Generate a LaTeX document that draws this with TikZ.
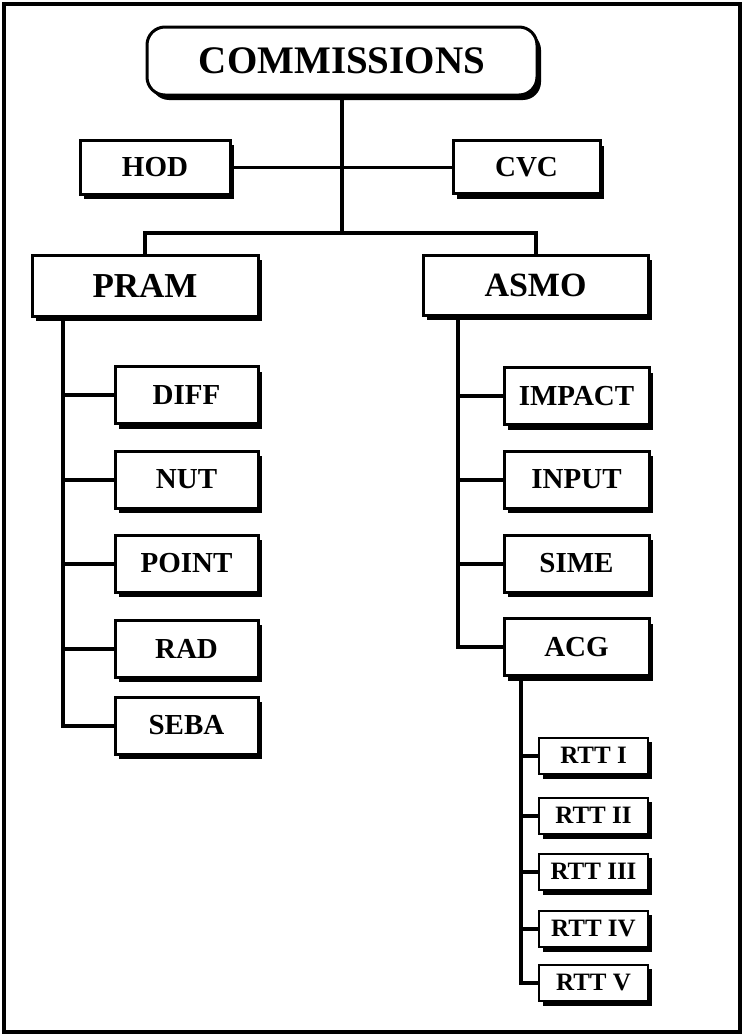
\documentclass[tikz,border=0pt]{standalone}
\usepackage{fontspec}
\setmainfont{Liberation Serif}
\usetikzlibrary{shadows,backgrounds}
\begin{document}
\begin{tikzpicture}[x=1pt,y=-1pt,
  box/.style={draw=black,line width=3pt,fill=white,inner sep=0pt,
    drop shadow={shadow xshift=4pt,shadow yshift=-5pt,opacity=1,fill=black},
    font=\bfseries\fontsize{29}{29}\selectfont},
  smallbox/.style={box,line width=2pt,minimum width=109pt,minimum height=36pt,
    drop shadow={shadow xshift=4pt,shadow yshift=-4pt,opacity=1,fill=black},
    font=\bfseries\fontsize{25}{25}\selectfont},
  childL/.style={box,minimum width=143pt,minimum height=57pt},
  childR/.style={box,minimum width=145pt,minimum height=57pt},
  conn/.style={draw=black,line width=4pt},
  thinconn/.style={draw=black,line width=3pt}]
\useasboundingbox (0,0) rectangle (743,1036);
\draw[line width=4pt] (4,4) rectangle (740,1032);

\node[box,rounded corners=18pt,minimum width=390pt,minimum height=68pt,
  font=\bfseries\fontsize{39}{39}\selectfont] (comm) at (342,61) {COMMISSIONS};
\node[box,minimum width=150pt,minimum height=54pt] (hod) at (155,167) {HOD};
\node[box,minimum width=147pt,minimum height=53pt] (cvc) at (526.5,167) {CVC};
\node[box,minimum width=226pt,minimum height=61pt,
  font=\bfseries\fontsize{35}{35}\selectfont] (pram) at (145,285.5) {PRAM};
\node[box,minimum width=225pt,minimum height=60pt,
  font=\bfseries\fontsize{34}{34}\selectfont] (asmo) at (535.5,285) {ASMO};

\node[childL] (diff) at (186.5,395) {DIFF};
\node[childL] (nut) at (186.5,479.5) {NUT};
\node[childL] (point) at (186.5,563.5) {POINT};
\node[childL] (rad) at (186.5,648.5) {RAD};
\node[childL] (seba) at (186.5,725.5) {SEBA};

\node[childR] (impact) at (576.5,396) {IMPACT};
\node[childR] (input) at (576.5,479.5) {INPUT};
\node[childR] (sime) at (576.5,563.5) {SIME};
\node[childR] (acg) at (576.5,647) {ACG};

\node[smallbox] (r1) at (593.5,755.5) {RTT I};
\node[smallbox] (r2) at (593.5,815.5) {RTT II};
\node[smallbox] (r3) at (593.5,871.5) {RTT III};
\node[smallbox] (r4) at (593.5,928.5) {RTT IV};
\node[smallbox] (r5) at (593.5,982.5) {RTT V};

\coordinate (bar) at (0,233);
\coordinate (ps) at (63,0);
\coordinate (as) at (458,0);
\coordinate (rs) at (521,0);

\begin{scope}[on background layer]
\draw[conn] (comm.south) -- (comm.south |- bar);
\draw[thinconn] (hod.east) -- (cvc.west);
\draw[conn] (pram.north) |- (comm.south |- bar) -| (asmo.north);
\foreach \c in {diff,nut,point,rad,seba}
  \draw[conn] (pram.south -| ps) |- (\c.west);
\foreach \c in {impact,input,sime,acg}
  \draw[conn] (asmo.south -| as) |- (\c.west);
\foreach \c in {r1,r2,r3,r4,r5}
  \draw[conn] (acg.south -| rs) |- (\c.west);
\end{scope}
\end{tikzpicture}
\end{document}
